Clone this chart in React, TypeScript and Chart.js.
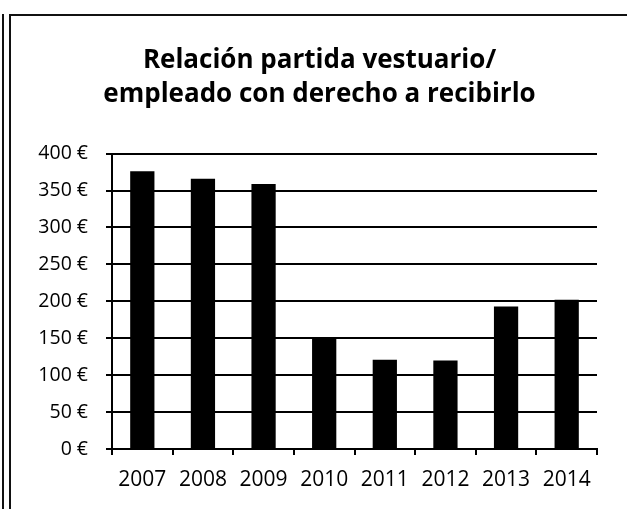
import React, { useEffect, useRef } from "react";
import { Chart, registerables } from "chart.js";

Chart.register(...registerables);

const categories = ["2007", "2008", "2009", "2010", "2011", "2012", "2013", "2014"];
const values = [376, 366, 359, 151, 121, 120, 193, 202];
const titleLines = ["Relación partida vestuario/", "empleado con derecho a recibirlo"];
const yMin = 0;
const yMax = 400;
const yStep = 50;

const framePlugin = {
  id: "frame",
  beforeDraw(chart: any) {
    const ctx = chart.ctx;
    ctx.save();
    ctx.fillStyle = "#ffffff";
    ctx.fillRect(0, 0, chart.width, chart.height);
    ctx.strokeStyle = "#111111";
    ctx.lineWidth = 2;
    ctx.beginPath();
    ctx.moveTo(3, 14);
    ctx.lineTo(3, chart.height);
    ctx.moveTo(10, 14);
    ctx.lineTo(10, chart.height);
    ctx.moveTo(9, 15);
    ctx.lineTo(chart.width, 15);
    ctx.stroke();
    ctx.restore();
  },
};

export default function App() {
  const ref = useRef<HTMLCanvasElement>(null);
  useEffect(() => {
    if (!ref.current) return;
    const chart = new Chart(ref.current, {
      type: "bar",
      data: {
        labels: categories,
        datasets: [
          {
            data: values,
            backgroundColor: "#000000",
            borderWidth: 0,
            barPercentage: 0.4,
            categoryPercentage: 1,
          },
        ],
      },
      options: {
        animation: false,
        responsive: true,
        maintainAspectRatio: false,
        layout: { padding: { left: 12, right: 0, top: 0, bottom: 0 } },
        plugins: {
          legend: { display: false },
          tooltip: { enabled: false },
          title: {
            display: true,
            text: titleLines,
            color: "#000000",
            font: { family: "'Open Sans'", size: 26, weight: "bold", lineHeight: 1.3 },
            padding: { top: 44, bottom: 42 },
          },
        },
        scales: {
          x: {
            grid: {
              display: true,
              drawOnChartArea: false,
              drawTicks: true,
              tickLength: 6,
              color: "#000000",
              lineWidth: 2,
              offset: true,
            },
            border: { display: true, color: "#000000", width: 2 },
            ticks: {
              color: "#000000",
              font: { family: "'Open Sans'", size: 21 },
              padding: 12,
              maxRotation: 0,
              autoSkip: false,
            },
            afterFit: (scale: any) => {
              scale.height = 60;
            },
          },
          y: {
            min: yMin,
            max: yMax,
            grid: {
              color: "#000000",
              lineWidth: 2,
              drawTicks: true,
              tickLength: 6,
            },
            border: { display: true, color: "#000000", width: 2 },
            ticks: {
              stepSize: yStep,
              color: "#000000",
              font: { family: "'Open Sans'", size: 19.5 },
              padding: 18,
              callback: (v: any) => `${v} €`,
            },
            afterFit: (scale: any) => {
              scale.width = 100;
            },
          },
          y2: {
            position: "right",
            display: true,
            grid: { display: false, drawTicks: false },
            border: { display: false },
            ticks: { display: false },
            afterFit: (scale: any) => {
              scale.width = 30;
            },
          },
        },
      },
      plugins: [framePlugin],
    });
    return () => chart.destroy();
  }, []);

  return (
    <div style={{ position: "absolute", left: 0, top: 0, width: 627, height: 509, background: "#fff" }}>
      <canvas ref={ref} />
    </div>
  );
}
